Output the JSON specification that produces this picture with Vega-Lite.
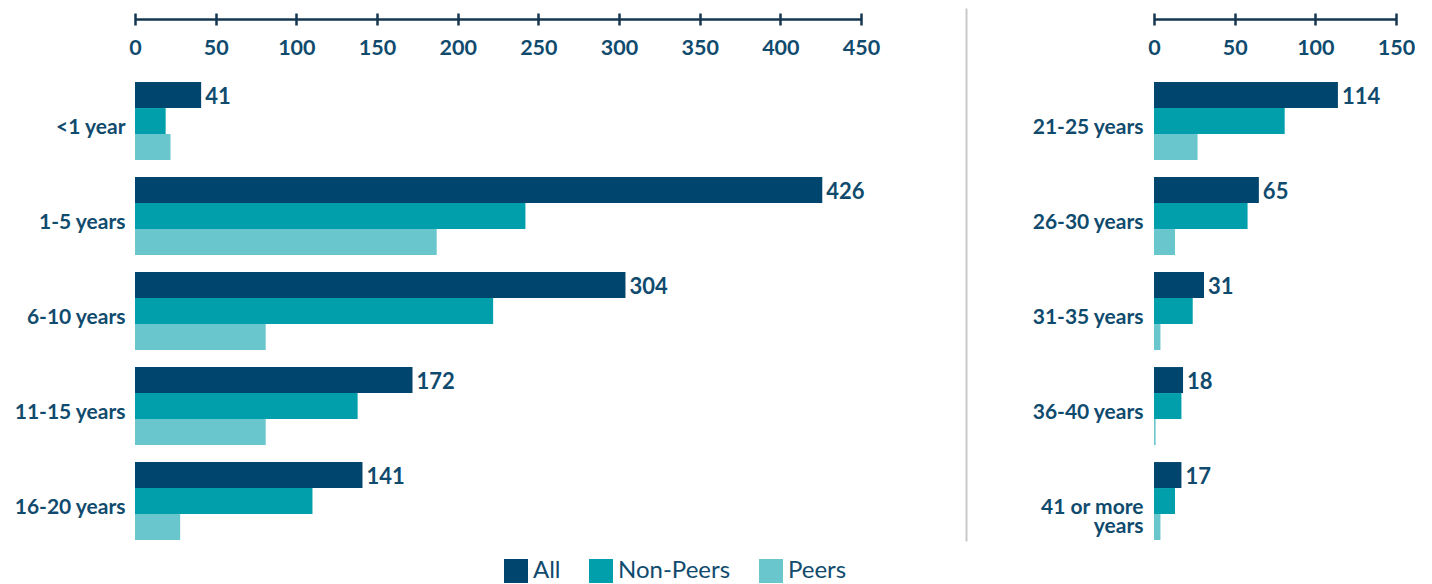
{
  "$schema": "https://vega.github.io/schema/vega-lite/v6.json",
  "padding": {"left": 0, "top": 8, "right": 0, "bottom": 0},
  "background": "white",
  "bounds": "flush",
  "spacing": 293,
  "config": {"view": {"stroke": null}, "font": "Lato"},
  "datasets": {
    "d": [
      {"panel": "left", "cat": "<1 year", "group": "All", "value": 41},
      {"panel": "left", "cat": "<1 year", "group": "Non-Peers", "value": 19},
      {"panel": "left", "cat": "<1 year", "group": "Peers", "value": 22},
      {"panel": "left", "cat": "1-5 years", "group": "All", "value": 426},
      {"panel": "left", "cat": "1-5 years", "group": "Non-Peers", "value": 242},
      {"panel": "left", "cat": "1-5 years", "group": "Peers", "value": 187},
      {"panel": "left", "cat": "6-10 years", "group": "All", "value": 304},
      {"panel": "left", "cat": "6-10 years", "group": "Non-Peers", "value": 222},
      {"panel": "left", "cat": "6-10 years", "group": "Peers", "value": 81},
      {"panel": "left", "cat": "11-15 years", "group": "All", "value": 172},
      {"panel": "left", "cat": "11-15 years", "group": "Non-Peers", "value": 138},
      {"panel": "left", "cat": "11-15 years", "group": "Peers", "value": 81},
      {"panel": "left", "cat": "16-20 years", "group": "All", "value": 141},
      {"panel": "left", "cat": "16-20 years", "group": "Non-Peers", "value": 110},
      {"panel": "left", "cat": "16-20 years", "group": "Peers", "value": 28},
      {"panel": "right", "cat": "21-25 years", "group": "All", "value": 114},
      {"panel": "right", "cat": "21-25 years", "group": "Non-Peers", "value": 81},
      {"panel": "right", "cat": "21-25 years", "group": "Peers", "value": 27},
      {"panel": "right", "cat": "26-30 years", "group": "All", "value": 65},
      {"panel": "right", "cat": "26-30 years", "group": "Non-Peers", "value": 58},
      {"panel": "right", "cat": "26-30 years", "group": "Peers", "value": 13},
      {"panel": "right", "cat": "31-35 years", "group": "All", "value": 31},
      {"panel": "right", "cat": "31-35 years", "group": "Non-Peers", "value": 24},
      {"panel": "right", "cat": "31-35 years", "group": "Peers", "value": 4},
      {"panel": "right", "cat": "36-40 years", "group": "All", "value": 18},
      {"panel": "right", "cat": "36-40 years", "group": "Non-Peers", "value": 17},
      {"panel": "right", "cat": "36-40 years", "group": "Peers", "value": 1},
      {"panel": "right", "cat": "41 or more years", "group": "All", "value": 17},
      {"panel": "right", "cat": "41 or more years", "group": "Non-Peers", "value": 13},
      {"panel": "right", "cat": "41 or more years", "group": "Peers", "value": 4}
    ]
  },
  "data": {"name": "d"},
  "hconcat": [
    {
      "width": 726,
      "height": 533,
      "transform": [{"filter": "datum.panel == 'left'"}],
      "encoding": {
        "y": {
          "field": "cat", "type": "nominal", "sort": null,
          "scale": {"paddingInner": 0.179, "paddingOuter": 0.395, "align": 0.987},
          "axis": {"title": null, "domain": false, "ticks": false, "labelPadding": 10, "labelFontSize": 21, "labelFontWeight": "bold", "labelColor": "#104b6e", "labelOffset": 7, "minExtent": 135, "labelLimit": 300}
        },
        "yOffset": {"field": "group", "type": "nominal", "scale": {"domain": ["All", "Non-Peers", "Peers"], "paddingInner": 0, "paddingOuter": 0}}
      },
      "layer": [
        {
          "mark": {"type": "bar"},
          "encoding": {
            "x": {
              "field": "value", "type": "quantitative",
              "scale": {"domain": [0, 450], "nice": false},
              "axis": {"orient": "top", "title": null, "offset": -17, "domain": false, "ticks": true, "tickSize": 12, "tickWidth": 2.5, "tickColor": "#15364f", "values": [0, 50, 100, 150, 200, 250, 300, 350, 400, 450], "labelPadding": -35, "labelBaseline": "middle", "labelFontSize": 21.5, "labelFontWeight": "bold", "labelColor": "#104b6e", "grid": false, "labelFlush": false, "labelOverlap": false, "format": "d"}
            },
            "color": {
              "field": "group", "type": "nominal",
              "scale": {"domain": ["All", "Non-Peers", "Peers"], "range": ["#00456d", "#009fab", "#68c6cc"]},
              "legend": {"title": null, "orient": "none", "legendX": 369, "legendY": 551, "direction": "horizontal", "symbolType": "square", "symbolSize": 576, "symbolStrokeWidth": 0, "symbolOpacity": 1, "labelFontSize": 24, "labelColor": "#104b6e", "labelOffset": 5, "columnPadding": 28}
            }
          }
        },
        {
          "transform": [{"filter": "datum.group == 'All'"}],
          "mark": {"type": "text", "align": "left", "baseline": "middle", "dx": 4, "dy": 2, "fontSize": 22, "fontWeight": "bold", "color": "#104b6e"},
          "encoding": {
            "x": {
              "field": "value", "type": "quantitative",
              "axis": {"orient": "top", "title": null, "offset": -11, "domain": true, "domainColor": "#15364f", "domainWidth": 2.5, "ticks": false, "labels": false, "grid": false}
            },
            "text": {"field": "value", "type": "quantitative"}
          }
        }
      ],
      "resolve": {"axis": {"x": "independent"}}
    },
    {
      "width": 242,
      "height": 533,
      "transform": [{"filter": "datum.panel == 'right'"}],
      "encoding": {
        "y": {
          "field": "cat", "type": "nominal", "sort": null,
          "scale": {"paddingInner": 0.179, "paddingOuter": 0.395, "align": 0.987},
          "axis": {"title": null, "domain": true, "domainColor": "#c9c9c9", "domainWidth": 2, "offset": 188, "ticks": false, "tickSize": 0, "labelPadding": -177, "labelFontSize": 21, "labelFontWeight": "bold", "labelColor": "#104b6e", "labelOffset": 7, "labelLineHeight": 19, "labelLimit": 300, "labelExpr": "datum.value == '41 or more years' ? ['41 or more', 'years'] : datum.label"}
        },
        "yOffset": {"field": "group", "type": "nominal", "scale": {"domain": ["All", "Non-Peers", "Peers"], "paddingInner": 0, "paddingOuter": 0}}
      },
      "layer": [
        {
          "mark": {"type": "bar"},
          "encoding": {
            "x": {
              "field": "value", "type": "quantitative",
              "scale": {"domain": [0, 150], "nice": false},
              "axis": {"orient": "top", "title": null, "offset": -17, "domain": false, "ticks": true, "tickSize": 12, "tickWidth": 2.5, "tickColor": "#15364f", "values": [0, 50, 100, 150], "labelPadding": -35, "labelBaseline": "middle", "labelFontSize": 21.5, "labelFontWeight": "bold", "labelColor": "#104b6e", "grid": false, "labelFlush": false, "labelOverlap": false, "format": "d"}
            },
            "color": {
              "field": "group", "type": "nominal",
              "scale": {"domain": ["All", "Non-Peers", "Peers"], "range": ["#00456d", "#009fab", "#68c6cc"]},
              "legend": {"title": null, "orient": "none", "legendX": 369, "legendY": 551, "direction": "horizontal", "symbolType": "square", "symbolSize": 576, "symbolStrokeWidth": 0, "symbolOpacity": 1, "labelFontSize": 24, "labelColor": "#104b6e", "labelOffset": 5, "columnPadding": 28}
            }
          }
        },
        {
          "transform": [{"filter": "datum.group == 'All'"}],
          "mark": {"type": "text", "align": "left", "baseline": "middle", "dx": 4, "dy": 2, "fontSize": 22, "fontWeight": "bold", "color": "#104b6e"},
          "encoding": {
            "x": {
              "field": "value", "type": "quantitative",
              "axis": {"orient": "top", "title": null, "offset": -11, "domain": true, "domainColor": "#15364f", "domainWidth": 2.5, "ticks": false, "labels": false, "grid": false}
            },
            "text": {"field": "value", "type": "quantitative"}
          }
        }
      ],
      "resolve": {"axis": {"x": "independent"}}
    }
  ]
}
